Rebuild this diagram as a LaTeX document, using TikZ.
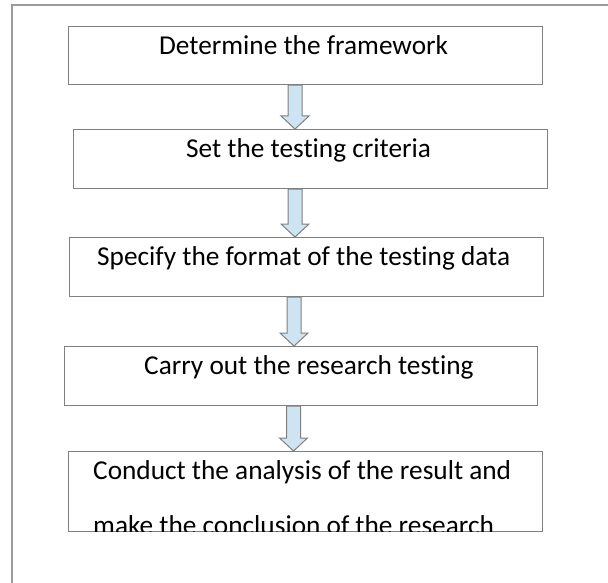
\documentclass[tikz,border=0pt]{standalone}
\usepackage{fontspec}
\setmainfont{Carlito}[Ligatures=NoCommon]
\usetikzlibrary{calc}

\definecolor{framegray}{RGB}{155,155,155}
\definecolor{boxgray}{RGB}{128,128,128}
\definecolor{arrowfill}{RGB}{207,228,243}

\tikzset{
  stepbox/.style={draw=boxgray, line width=1.1pt, inner sep=0pt, anchor=north west},
  steptext/.style={inner sep=0pt, anchor=base west, font=\fontsize{27.3}{33}\selectfont},
  flowarrow/.style={draw=boxgray, fill=arrowfill, line width=1pt, line join=miter},
  framerule/.style={draw=framegray, line width=1.4pt},
}

% block arrow at horizontal position #1 (pt) from box #2 down to box #3
\newcommand{\flowdown}[3]{%
  \path[flowarrow] let \p1=(#2.south), \p2=(#3.north) in
    (#1pt-7pt,\y1) -- (#1pt+7pt,\y1) -- (#1pt+7pt,\y2+13pt) -- (#1pt+14pt,\y2+13pt)
    -- (#1pt,\y2) -- (#1pt-14pt,\y2+13pt) -- (#1pt-7pt,\y2+13pt) -- cycle;}

\begin{document}
\begin{tikzpicture}[x=1pt, y=-1pt]
  \useasboundingbox (0,0) rectangle (608,583);

  % surrounding frame (top and left edges)
  \coordinate (fc) at (12,5);
  \coordinate (fr) at (608,5);
  \coordinate (fb) at (12,583);
  \draw[framerule] (fr) -- (fc) -- (fb);

  % process steps
  \node[stepbox, minimum width=474pt, minimum height=58pt] (b1) at (68,26) {};
  \node[stepbox, minimum width=474pt, minimum height=59pt] (b2) at (73,129) {};
  \node[stepbox, minimum width=474pt, minimum height=59pt] (b3) at (69,237) {};
  \node[stepbox, minimum width=473pt, minimum height=59pt] (b4) at (64,346) {};
  \node[stepbox, minimum width=474pt, minimum height=80pt] (b5) at (68,451) {};

  \node[steptext] (t1) at (159,54.6) {Determine the framework};
  \node[steptext] (t2) at (186,157.6) {Set the testing criteria};
  \node[steptext] (t3) at (97,265.6) {Specify the format of the testing data};
  \node[steptext] (t4) at (144,374.6) {Carry out the research testing};
  \begin{scope}
    \clip (b5.north west) rectangle ([yshift=0.55pt]b5.south east);
    \node[steptext] (t5) at (93,479.7) {Conduct the analysis of the result and};
    \node[steptext] (t6) at (93,534.7) {make the conclusion of the research};
  \end{scope}

  % arrows between steps
  \flowdown{295}{b1}{b2}
  \flowdown{295}{b2}{b3}
  \flowdown{294}{b3}{b4}
  \flowdown{293.5}{b4}{b5}
\end{tikzpicture}
\end{document}
